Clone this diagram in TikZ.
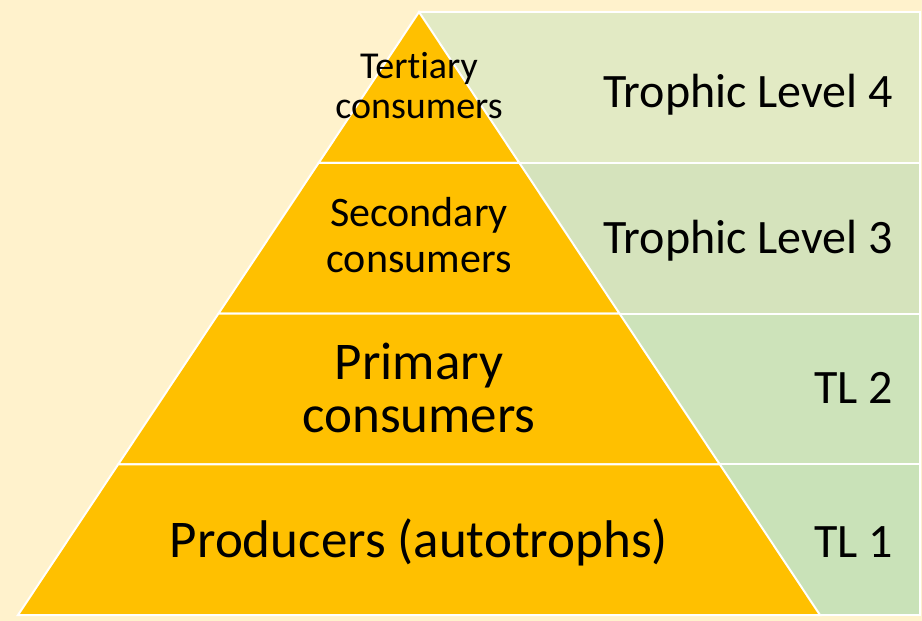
\documentclass[tikz,border=0pt]{standalone}
\usepackage{fontspec}
\setmainfont{Carlito}[Ligatures={NoCommon}]
\usetikzlibrary{calc}

\definecolor{cream}{HTML}{FFF2CC}
\definecolor{amber}{HTML}{FFC000}
\definecolor{leaf4}{HTML}{E2EAC4}
\definecolor{leaf3}{HTML}{D5E3BC}
\definecolor{leaf2}{HTML}{CDE3BA}
\definecolor{leaf1}{HTML}{C9E2B8}

\begin{document}
\begin{tikzpicture}[x=1pt,y=-1pt,
	layer/.style={fill=amber,draw=white,line width=2pt},
	band/.style={draw=white,line width=2pt},
	inside/.style={align=center,inner sep=0pt},
	level/.style={anchor=base east,inner sep=0pt,font=\fontsize{48}{56}\selectfont}]
	\fill[cream] (0,0) rectangle (922,621);
	\useasboundingbox (0,0) rectangle (922,621);
	\coordinate (apex) at (419,12);
	\coordinate (b_l) at (18,615);
	\coordinate (b_r) at (820,615);
	\foreach \i/\c in {0/leaf4,1/leaf3,2/leaf2,3/leaf1}
		\draw[band,fill=\c] (419,{12+150.75*\i}) rectangle (920,{12+150.75*(\i+1)});
	\draw[layer] (apex) -- ($(apex)!0.25!(b_r)$) -- ($(apex)!0.25!(b_l)$) -- cycle;
	\foreach \a/\b in {0.25/0.5,0.5/0.75,0.75/1}
		\draw[layer] ($(apex)!\a!(b_l)$) -- ($(apex)!\a!(b_r)$)
			-- ($(apex)!\b!(b_r)$) -- ($(apex)!\b!(b_l)$) -- cycle;
	\node[inside,font=\fontsize{38}{40}\selectfont] (tert) at (419,85.5) {Tertiary\\consumers};
	\node[inside,font=\fontsize{42}{46}\selectfont] (sec) at (419,235.5) {Secondary\\consumers};
	\node[inside,font=\fontsize{53}{53}\selectfont] (prim) at (419,388) {Primary\\consumers};
	\node[inside,anchor=base,font=\fontsize{53}{60}\selectfont] (prod) at (419,557) {Producers (autotrophs)};
	\node[level] (tl_4) at (893,107) {Trophic Level 4};
	\node[level] (tl_3) at (893,253) {Trophic Level 3};
	\node[level] (tl_2) at (893,403) {TL 2};
	\node[level] (tl_1) at (893,557) {TL 1};
\end{tikzpicture}
\end{document}
